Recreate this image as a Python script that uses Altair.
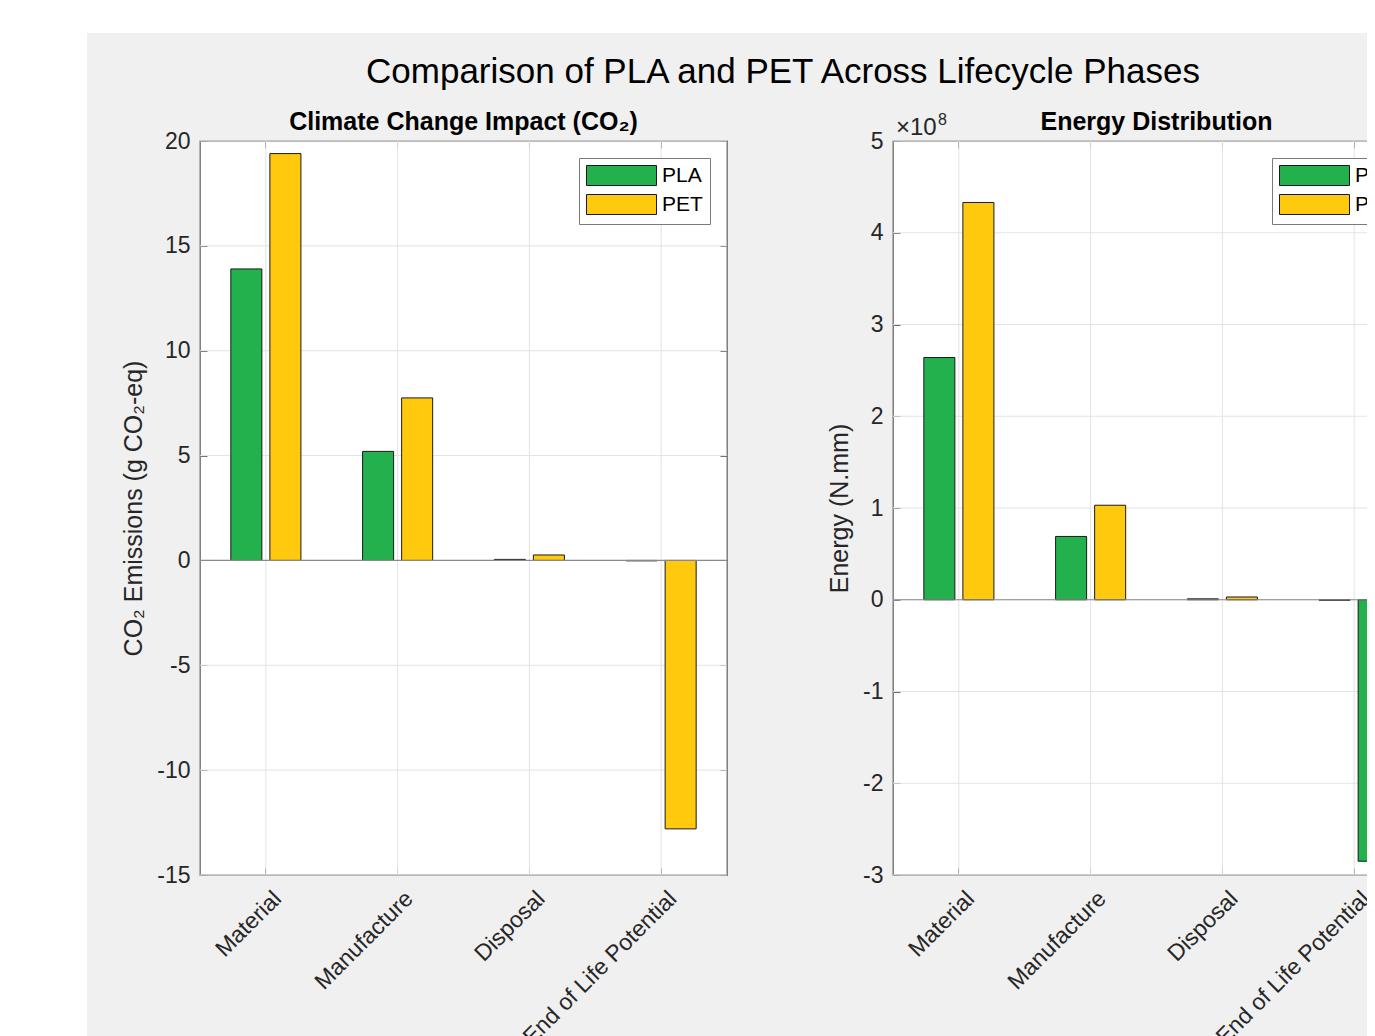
import altair as alt
import pandas as pd

# ---------------- data ----------------
phases = ["Material", "Manufacture", "Disposal", "End of Life Potential"]
materials = ["PLA", "PET"]

co2_pla = [13.9, 5.2, 0.05, -0.02]
co2_pet = [19.4, 7.75, 0.26, -12.8]

energy_pla = [2.64e8, 0.69e8, 0.01e8, -0.005e8]
energy_pet = [4.33e8, 1.03e8, 0.03e8, -2.85e8]

co2_ticks = [-15, -10, -5, 0, 5, 10, 15, 20]
energy_ticks = [-3e8, -2e8, -1e8, 0, 1e8, 2e8, 3e8, 4e8, 5e8]

main_title = "Comparison of PLA and PET Across Lifecycle Phases"
co2_title = "Climate Change Impact (CO\u2082)"
co2_ytitle = "CO\u2082 Emissions (g CO\u2082-eq)"
energy_title = "Energy Distribution"
energy_ytitle = "Energy (N.mm)"

# ---------------- style ----------------
GREEN = "#22B14C"
YELLOW = "#FFC90E"
FIGBG = "#F0F0F0"
FONT = "Liberation Sans"
TXT = "#262626"
AX = "#6b6b6b"
GRID = "#E3E3E3"
W, H = 527, 734
GAP = 166
PAD_L, PAD_T = 25, 133
SVG_W, SVG_H = 1359, 1012


def long_df(pla, pet):
    rows = []
    for i, p in enumerate(phases):
        rows.append({"Phase": p, "Material": "PLA", "value": pla[i]})
        rows.append({"Phase": p, "Material": "PET", "value": pet[i]})
    return pd.DataFrame(rows)


def panel(df, ticks, title, ytitle, label_expr, highlight=None):
    yscale = alt.Scale(domain=[ticks[0], ticks[-1]], nice=False, zero=True)
    xscale = alt.Scale(domain=phases, paddingInner=0, paddingOuter=0)
    tick_df = pd.DataFrame({"v": ticks})
    phase_df = pd.DataFrame({"Phase": phases})

    ygrid = alt.Chart(tick_df).mark_rule(color=GRID, strokeWidth=1).encode(
        y=alt.Y("v:Q", scale=yscale,
                axis=alt.Axis(orient="right", values=ticks, labels=False, domain=False,
                              grid=False, ticks=True, tickSize=7, offset=-7,
                              tickColor=AX, title=None))
    )
    xgrid = alt.Chart(phase_df).mark_rule(color=GRID, strokeWidth=1).encode(
        x=alt.X("Phase:N", scale=xscale, sort=phases,
                axis=alt.Axis(orient="top", labels=False, domain=False, grid=False,
                              ticks=True, tickSize=7, offset=-7, tickColor=AX,
                              title=None))
    )

    color = alt.Color(
        "Material:N",
        scale=alt.Scale(domain=materials, range=[GREEN, YELLOW]),
        legend=alt.Legend(
            title=None, orient="none", legendX=379, legendY=17,
            direction="vertical",
            symbolType="M-3.5,-1H3.5V1H-3.5Z", symbolSize=400,
            symbolOffset=25,
            symbolStrokeColor="#1a1a1a", symbolStrokeWidth=1,
            labelFontSize=21, labelFont=FONT, labelColor="#000000",
            labelOffset=30, padding=7, rowPadding=4,
            fillColor="white", strokeColor="#7a7a7a", cornerRadius=0,
        ),
    )
    if highlight:
        color = alt.condition(highlight, alt.value(GREEN), color)

    bars = alt.Chart(df).mark_bar(stroke="#1a1a1a", strokeWidth=1).encode(
        x=alt.X("Phase:N", scale=xscale, sort=phases,
                axis=alt.Axis(orient="bottom", title=None, labelAngle=-45,
                              labelAlign="right", labelBaseline="top",
                              labelPadding=12, labelOffset=4, labelLimit=400,
                              labelFontSize=23, labelFont=FONT, labelColor=TXT,
                              domain=False, grid=False, ticks=True, tickSize=7,
                              offset=-7, tickColor=AX)),
        xOffset=alt.XOffset("Material:N", sort=materials,
                            scale=alt.Scale(domain=materials, paddingInner=0.205,
                                            paddingOuter=0.79)),
        y=alt.Y("value:Q", scale=yscale,
                axis=alt.Axis(orient="left", values=ticks, labelExpr=label_expr,
                              title=ytitle, titleFontSize=25, titleFont=FONT,
                              titleFontWeight="normal", titleColor=TXT,
                              titlePadding=10, labelFontSize=23, labelFont=FONT,
                              labelColor=TXT, labelPadding=10, domain=False,
                              grid=False, ticks=True, tickSize=7, offset=-7,
                              tickColor=AX)),
        color=color,
    )
    zero = alt.Chart(pd.DataFrame({"z": [0]})).mark_rule(color="#8a8a8a", strokeWidth=1.2).encode(
        y=alt.Y("z:Q", scale=yscale, axis=None)
    )
    return alt.layer(ygrid, xgrid, bars, zero).properties(
        width=W, height=H,
        title=alt.TitleParams(title, fontSize=25, fontWeight="bold", font=FONT,
                              color="#000000", offset=-5),
    ).resolve_axis(x="independent", y="independent")


co2_df = long_df(co2_pla, co2_pet)
energy_df = long_df(energy_pla, energy_pet)

left = panel(co2_df, co2_ticks, co2_title, co2_ytitle, "'' + datum.value")
right = panel(energy_df, energy_ticks, energy_title, energy_ytitle,
              "'' + round(datum.value / 1e8)",
              highlight="datum.Material == 'PET' && datum.Phase == 'End of Life Potential'")

# figure background, figure title and the x10^8 exponent live in a 1px-wide
# first column (positions are converted from page pixels)
one = pd.DataFrame({"t": [""]})
x_fig = lambda page_x: alt.value(page_x - 8 - PAD_L)
y_fig = lambda page_y: alt.value(page_y - 8 - PAD_T)

fig_bg = alt.Chart(one).mark_rect(color=FIGBG).encode(
    x=x_fig(87), x2=x_fig(3000), y=y_fig(33), y2=y_fig(3000))
fig_title = alt.Chart(pd.DataFrame({"t": [main_title]})).mark_text(
    align="center", baseline="alphabetic", fontSize=35, font=FONT, color="#000000"
).encode(x=x_fig(783), y=y_fig(83), text="t:N")
exp_a = alt.Chart(pd.DataFrame({"t": ["\u00d710"]})).mark_text(
    align="left", baseline="alphabetic", fontSize=24, font=FONT, color=TXT
).encode(x=x_fig(896), y=y_fig(135), text="t:N")
exp_b = alt.Chart(pd.DataFrame({"t": ["8"]})).mark_text(
    align="left", baseline="alphabetic", fontSize=16, font=FONT, color=TXT
).encode(x=x_fig(938), y=y_fig(125), text="t:N")

bg = alt.layer(fig_bg, fig_title, exp_a, exp_b).properties(
    width=1, height=H,
    view=alt.ViewBackground(stroke="transparent", fill="transparent"),
)

chart = alt.hconcat(bg, left, right, spacing=GAP, bounds="flush").properties(
    autosize=alt.AutoSizeParams(type="none"),
).resolve_scale(color="independent").resolve_legend(color="independent").configure(
    background="white",
    padding={"left": PAD_L, "top": PAD_T, "right": SVG_W - PAD_L, "bottom": SVG_H - PAD_T},
).configure_view(stroke=AX, strokeWidth=1.3, fill="white")

chart.save("out.html", embed_options={"renderer": "svg", "actions": False})
